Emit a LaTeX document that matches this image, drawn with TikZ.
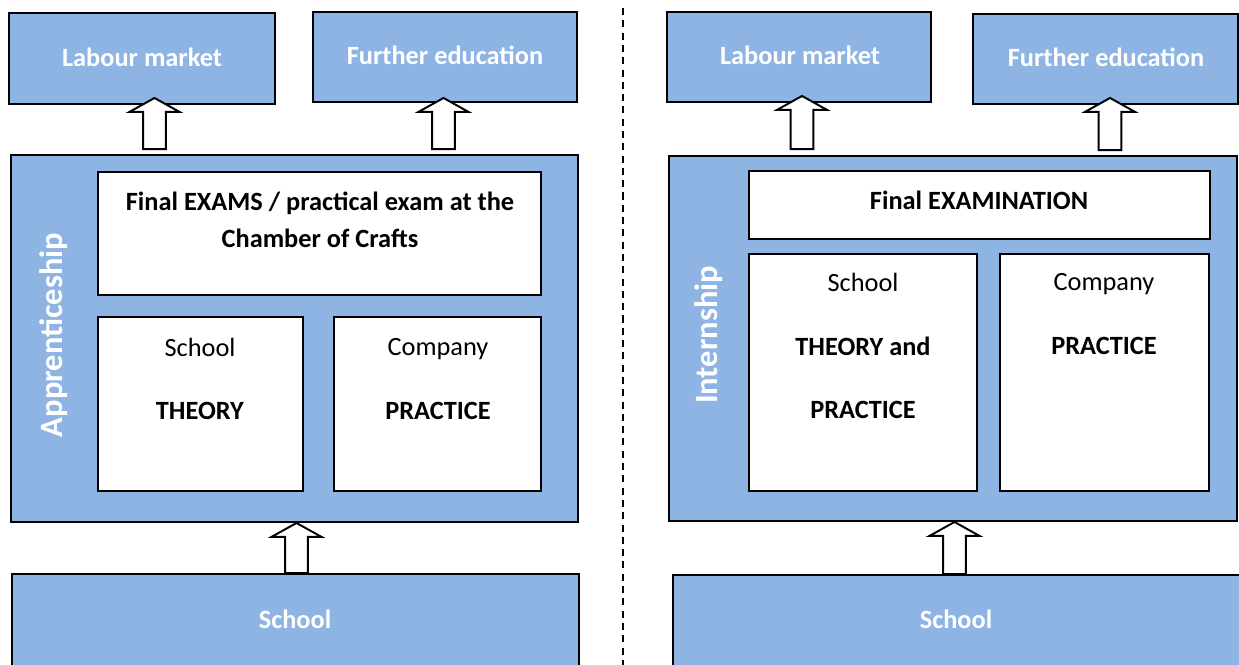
\documentclass[tikz,border=0pt]{standalone}
\usepackage{fontspec}
\setmainfont{Carlito}
\usetikzlibrary{calc, fit}
\definecolor{boxblue}{RGB}{142,180,227}

% white block arrow pointing up, from #1 (foot) to #2 (tip)
\newcommand{\blockarrow}[2]{%
  \draw[barrow] let \p1=(#1), \p2=(#2) in
    (\x1-6.5pt,\y1) -- (\x1-6.5pt,\y2-7.9pt) -- (\x1-14.2pt,\y2-7.9pt)
    -- (\x1,\y2) -- (\x1+14.2pt,\y2-7.9pt) -- (\x1+6.5pt,\y2-7.9pt)
    -- (\x1+6.5pt,\y1) -- cycle;}

\begin{document}
\begin{tikzpicture}[
    x=0.02cm, y=-0.02cm,
    line width=1.1pt,
    outer/.style={draw,fill=boxblue,inner sep=0pt},
    inner/.style={draw,fill=white,inner sep=0pt},
    wtxt/.style={text=white,font=\fontsize{15}{18}\selectfont\bfseries},
    txt/.style={align=center,font=\fontsize{15}{36}\selectfont},
    side/.style={rotate=90,text=white,font=\fontsize{18.5}{22}\selectfont\bfseries},
    barrow/.style={draw,fill=white,line width=1.1pt}]
  \useasboundingbox (0,0) rectangle (1239,664);

  % left: apprenticeship
  \node[outer,fit={(9,13) (275,104)}] (lab1) {};
  \node[wtxt] (lab1txt) at (142,57) {Labour market};
  \node[outer,fit={(313,12) (577,102)}] (edu1) {};
  \node[wtxt] (edu1txt) at (445,55) {Further education};
  \node[outer,fit={(11,155) (578,522)}] (app) {};
  \node[side] (appname) at (54,335) {Apprenticeship};
  \node[inner,fit={(98,172) (541,295)}] (exam1) {};
  \node[txt,font=\fontsize{15}{21}\selectfont\bfseries] (exam1txt) at (320,220)
    {Final EXAMS / practical exam at the\\Chamber of Crafts};
  \node[inner,fit={(98,317) (303,491)}] (theo1) {};
  \node[txt] (theo1txt) at (200,379) {School\\\textbf{THEORY}};
  \node[inner,fit={(334,317) (541,491)}] (prac1) {};
  \node[txt] (prac1txt) at (438,379) {Company\\\textbf{PRACTICE}};
  \node[outer,fit={(12,574) (579,672)}] (sch1) {};
  \node[wtxt] (sch1txt) at (295,619) {School};

  % divider
  \draw[dash pattern=on 4pt off 3pt,line width=1.1pt] (623,8) -- (623,670);

  % right: internship
  \node[outer,fit={(667,12) (931,102)}] (lab2) {};
  \node[wtxt] (lab2txt) at (800,55) {Labour market};
  \node[outer,fit={(973,14) (1238,104)}] (edu2) {};
  \node[wtxt] (edu2txt) at (1106,57) {Further education};
  \node[outer,fit={(669,156) (1237,521)}] (int) {};
  \node[side] (intname) at (709,335) {Internship};
  \node[inner,fit={(749,171) (1210,239)}] (exam2) {};
  \node[font=\fontsize{15}{18}\selectfont\bfseries] (exam2txt) at (979,200) {Final EXAMINATION};
  \node[inner,fit={(749,254) (977,491)}] (theo2) {};
  \node[txt] (theo2txt) at (863,346) {School\\\textbf{THEORY and}\\\textbf{PRACTICE}};
  \node[inner,fit={(1000,254) (1209,491)}] (prac2) {};
  \node[txt] (prac2txt) at (1104,314) {Company\\\textbf{PRACTICE}};
  \node[outer,fit={(673,575) (1250,672)}] (sch2) {};
  \node[wtxt] (sch2txt) at (956,619) {School};

  % arrows
  \coordinate (ax1) at (154.5,0);
  \coordinate (ax2) at (443.5,0);
  \coordinate (ax3) at (296.5,0);
  \coordinate (ax4) at (802,0);
  \coordinate (ax5) at (1110,0);
  \coordinate (ax6) at (954.5,0);
  \blockarrow{$(ax1 |- app.north)+(0,-5)$}{$(ax1 |- lab1.south)+(0,-7)$}
  \blockarrow{$(ax2 |- app.north)+(0,-5)$}{$(ax2 |- edu1.south)+(0,-5)$}
  \blockarrow{ax3 |- sch1.north}{ax3 |- app.south}
  \blockarrow{$(ax4 |- int.north)+(0,-6)$}{$(ax4 |- lab2.south)+(0,-7)$}
  \blockarrow{$(ax5 |- int.north)+(0,-5)$}{$(ax5 |- edu2.south)+(0,-7)$}
  \blockarrow{ax6 |- sch2.north}{ax6 |- int.south}
\end{tikzpicture}
\end{document}
